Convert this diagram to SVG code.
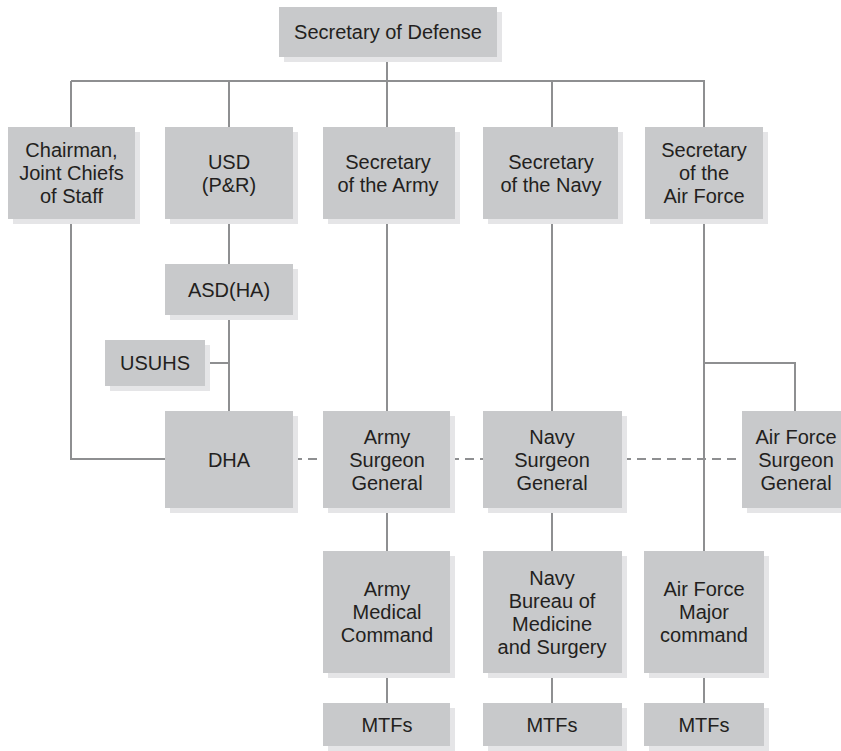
<svg xmlns="http://www.w3.org/2000/svg" width="841" height="751" viewBox="0 0 841 751">
<style>
.bx{fill:#c8c9cb}
.sh{fill:#e5e5e7}
.ln{stroke:#8e8f91;stroke-width:2;fill:none}
.ds{stroke:#8e8f91;stroke-width:2;fill:none;stroke-dasharray:9 6}
text{font-family:"Liberation Sans",Arial,sans-serif;font-size:20px;fill:#231f20;text-anchor:middle}
</style>
<rect width="841" height="751" fill="#ffffff"/>
<g id="connectors">
<path class="ln" d="M387 57V81M71 81H705M71 81V127M229 81V127M387 81V127M552 81V127M704 81V127"/>
<path class="ln" d="M71 219V459H165"/>
<path class="ln" d="M229 219V264M229 315V411M205 363H229"/>
<path class="ln" d="M387 219V411M387 508V551M387 673V703"/>
<path class="ln" d="M552 219V411M552 508V551M552 673V703"/>
<path class="ln" d="M704 219V551M704 673V703M704 363H795V411"/>
<path class="ds" d="M293 459H323M450 459H483M622 459H742"/>
</g>
<g id="secdef"><rect class="sh" x="284" y="12" width="218" height="50"/><rect class="bx" x="279" y="7" width="218" height="50"/><text x="388" y="39">Secretary of Defense</text></g>
<g id="chairman"><rect class="sh" x="13" y="132" width="127" height="92"/><rect class="bx" x="8" y="127" width="127" height="92"/><text x="71.5" y="157">Chairman,</text><text x="71.5" y="180">Joint Chiefs</text><text x="71.5" y="203">of Staff</text></g>
<g id="usd"><rect class="sh" x="170" y="132" width="128" height="92"/><rect class="bx" x="165" y="127" width="128" height="92"/><text x="229" y="168.5">USD</text><text x="229" y="191.5">(P&amp;R)</text></g>
<g id="secarmy"><rect class="sh" x="328" y="132" width="132" height="92"/><rect class="bx" x="323" y="127" width="132" height="92"/><text x="388" y="168.5">Secretary</text><text x="388" y="191.5">of the Army</text></g>
<g id="secnavy"><rect class="sh" x="488" y="132" width="135" height="92"/><rect class="bx" x="483" y="127" width="135" height="92"/><text x="551" y="168.5">Secretary</text><text x="551" y="191.5">of the Navy</text></g>
<g id="secaf"><rect class="sh" x="650" y="132" width="118" height="92"/><rect class="bx" x="645" y="127" width="118" height="92"/><text x="704" y="157">Secretary</text><text x="704" y="180">of the</text><text x="704" y="203">Air Force</text></g>
<g id="asdha"><rect class="sh" x="170" y="269" width="128" height="51"/><rect class="bx" x="165" y="264" width="128" height="51"/><text x="229" y="296.5">ASD(HA)</text></g>
<g id="usuhs"><rect class="sh" x="110" y="345" width="100" height="46"/><rect class="bx" x="105" y="340" width="100" height="46"/><text x="155" y="370">USUHS</text></g>
<g id="dha"><rect class="sh" x="170" y="416" width="128" height="97"/><rect class="bx" x="165" y="411" width="128" height="97"/><text x="229" y="466.5">DHA</text></g>
<g id="armysg"><rect class="sh" x="328" y="416" width="127" height="97"/><rect class="bx" x="323" y="411" width="127" height="97"/><text x="387" y="443.5">Army</text><text x="387" y="466.5">Surgeon</text><text x="387" y="489.5">General</text></g>
<g id="navysg"><rect class="sh" x="488" y="416" width="139" height="97"/><rect class="bx" x="483" y="411" width="139" height="97"/><text x="552" y="443.5">Navy</text><text x="552" y="466.5">Surgeon</text><text x="552" y="489.5">General</text></g>
<g id="afsg"><rect class="sh" x="747" y="416" width="108" height="97"/><rect class="bx" x="742" y="411" width="108" height="97"/><text x="796" y="443.5">Air Force</text><text x="796" y="466.5">Surgeon</text><text x="796" y="489.5">General</text></g>
<g id="armymed"><rect class="sh" x="328" y="556" width="127" height="122"/><rect class="bx" x="323" y="551" width="127" height="122"/><text x="387" y="596">Army</text><text x="387" y="619">Medical</text><text x="387" y="642">Command</text></g>
<g id="navybumed"><rect class="sh" x="488" y="556" width="139" height="122"/><rect class="bx" x="483" y="551" width="139" height="122"/><text x="552" y="584.5">Navy</text><text x="552" y="607.5">Bureau of</text><text x="552" y="630.5">Medicine</text><text x="552" y="653.5">and Surgery</text></g>
<g id="afmajcom"><rect class="sh" x="649" y="556" width="120" height="122"/><rect class="bx" x="644" y="551" width="120" height="122"/><text x="704" y="596">Air Force</text><text x="704" y="619">Major</text><text x="704" y="642">command</text></g>
<g id="mtf-army"><rect class="sh" x="328" y="708" width="127" height="43"/><rect class="bx" x="323" y="703" width="127" height="43"/><text x="387" y="731.5">MTFs</text></g>
<g id="mtf-navy"><rect class="sh" x="488" y="708" width="139" height="43"/><rect class="bx" x="483" y="703" width="139" height="43"/><text x="552" y="731.5">MTFs</text></g>
<g id="mtf-af"><rect class="sh" x="649" y="708" width="120" height="43"/><rect class="bx" x="644" y="703" width="120" height="43"/><text x="704" y="731.5">MTFs</text></g>
</svg>
